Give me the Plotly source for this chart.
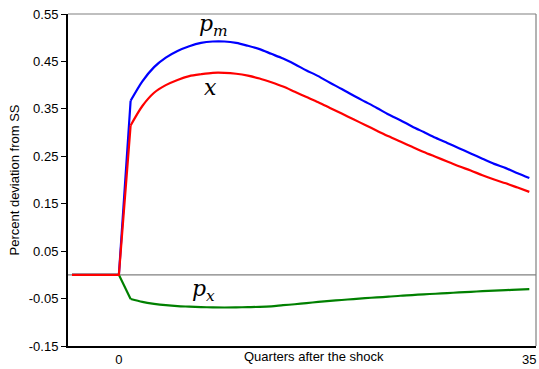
import plotly.graph_objects as go

quarters = list(range(-4, 36))
pm = [0, 0, 0, 0, 0,
      0.367, 0.408, 0.438, 0.458, 0.472, 0.482, 0.489, 0.492, 0.492, 0.489,
      0.483, 0.476, 0.466, 0.456, 0.444, 0.431, 0.419, 0.405, 0.392, 0.378,
      0.365, 0.352, 0.338, 0.326, 0.313, 0.301, 0.289, 0.278, 0.267, 0.256,
      0.245, 0.234, 0.225, 0.214, 0.204]
xx = [0, 0, 0, 0, 0,
      0.315, 0.356, 0.384, 0.400, 0.411, 0.419, 0.423, 0.426, 0.426, 0.424,
      0.420, 0.414, 0.406, 0.397, 0.386, 0.375, 0.364, 0.352, 0.340, 0.328,
      0.316, 0.304, 0.292, 0.281, 0.270, 0.259, 0.249, 0.239, 0.229, 0.220,
      0.210, 0.201, 0.193, 0.184, 0.175]
px = [0, 0, 0, 0, 0,
      -0.051, -0.057, -0.061, -0.064, -0.066, -0.067, -0.068, -0.0685, -0.0688, -0.0685,
      -0.068, -0.0675, -0.0663, -0.064, -0.062, -0.0595, -0.057, -0.055, -0.053, -0.051,
      -0.049, -0.0475, -0.046, -0.044, -0.0427, -0.041, -0.0398, -0.0384, -0.037, -0.0357,
      -0.0345, -0.0333, -0.0322, -0.031, -0.030]

y_ticks = [-0.15, -0.05, 0.05, 0.15, 0.25, 0.35, 0.45, 0.55]
x_ticks = [0, 35]

SHOCK = 5  # index of first post-shock quarter (t = 1)

fig = go.Figure()
for series, color in [(pm, "#0000ff"), (px, "#008000"), (xx, "#ff0000")]:
    fig.add_trace(go.Scatter(x=quarters[:SHOCK + 1], y=series[:SHOCK + 1], mode="lines",
                             line=dict(color=color, width=2.2), showlegend=False))
    fig.add_trace(go.Scatter(x=quarters[SHOCK:], y=series[SHOCK:], mode="lines",
                             line=dict(color=color, width=2.2, shape="spline", smoothing=0.8),
                             showlegend=False))

# zero line
fig.add_shape(type="line", xref="paper", yref="y", x0=0, x1=1, y0=0, y1=0,
              line=dict(color="#808080", width=1.2), layer="below")
# top and right borders
fig.add_shape(type="line", xref="paper", yref="paper", x0=0, x1=1, y0=1, y1=1,
              line=dict(color="#808080", width=1.2))
fig.add_shape(type="line", xref="paper", yref="paper", x0=1, x1=1, y0=0, y1=1,
              line=dict(color="#808080", width=1.2))

lab_font = dict(family="DejaVu Serif", size=22, color="black")
fig.add_annotation(x=8.1, y=0.525, xref="x", yref="y", text="<i>p</i><sub><i>m</i></sub>",
                   showarrow=False, font=lab_font)
fig.add_annotation(x=7.8, y=0.395, xref="x", yref="y", text="<i>x</i>",
                   showarrow=False, font=lab_font)
fig.add_annotation(x=7.2, y=-0.032, xref="x", yref="y", text="<i>p</i><sub><i>x</i></sub>",
                   showarrow=False, font=lab_font)

fig.add_annotation(x=0.525, y=0, xref="paper", yref="paper", yanchor="top", yshift=-1,
                   text="Quarters after the shock", showarrow=False,
                   font=dict(family="Arial, Liberation Sans", size=13, color="black"))

fig.update_layout(
    width=539, height=369,
    margin=dict(l=68, r=2, t=14, b=19),
    plot_bgcolor="white", paper_bgcolor="white",
    font=dict(family="Arial, Liberation Sans", size=13, color="black"),
    xaxis=dict(range=[-4.34, 35.57], tickvals=x_ticks, ticktext=[str(v) for v in x_ticks],
               showgrid=False, zeroline=False, showline=True, linecolor="black", linewidth=1.8,
               ticks="", tickfont=dict(size=13), ticklabelstandoff=0),
    yaxis=dict(range=[-0.15, 0.55], tickvals=y_ticks, ticktext=[f"{v:.2f}" for v in y_ticks],
               showgrid=False, zeroline=False, showline=True, linecolor="black", linewidth=2,
               ticks="outside", ticklen=5, tickcolor="black", tickfont=dict(size=13),
               title=dict(text="Percent deviation from SS", font=dict(size=13), standoff=6)),
)

fig.write_html("out.html")
